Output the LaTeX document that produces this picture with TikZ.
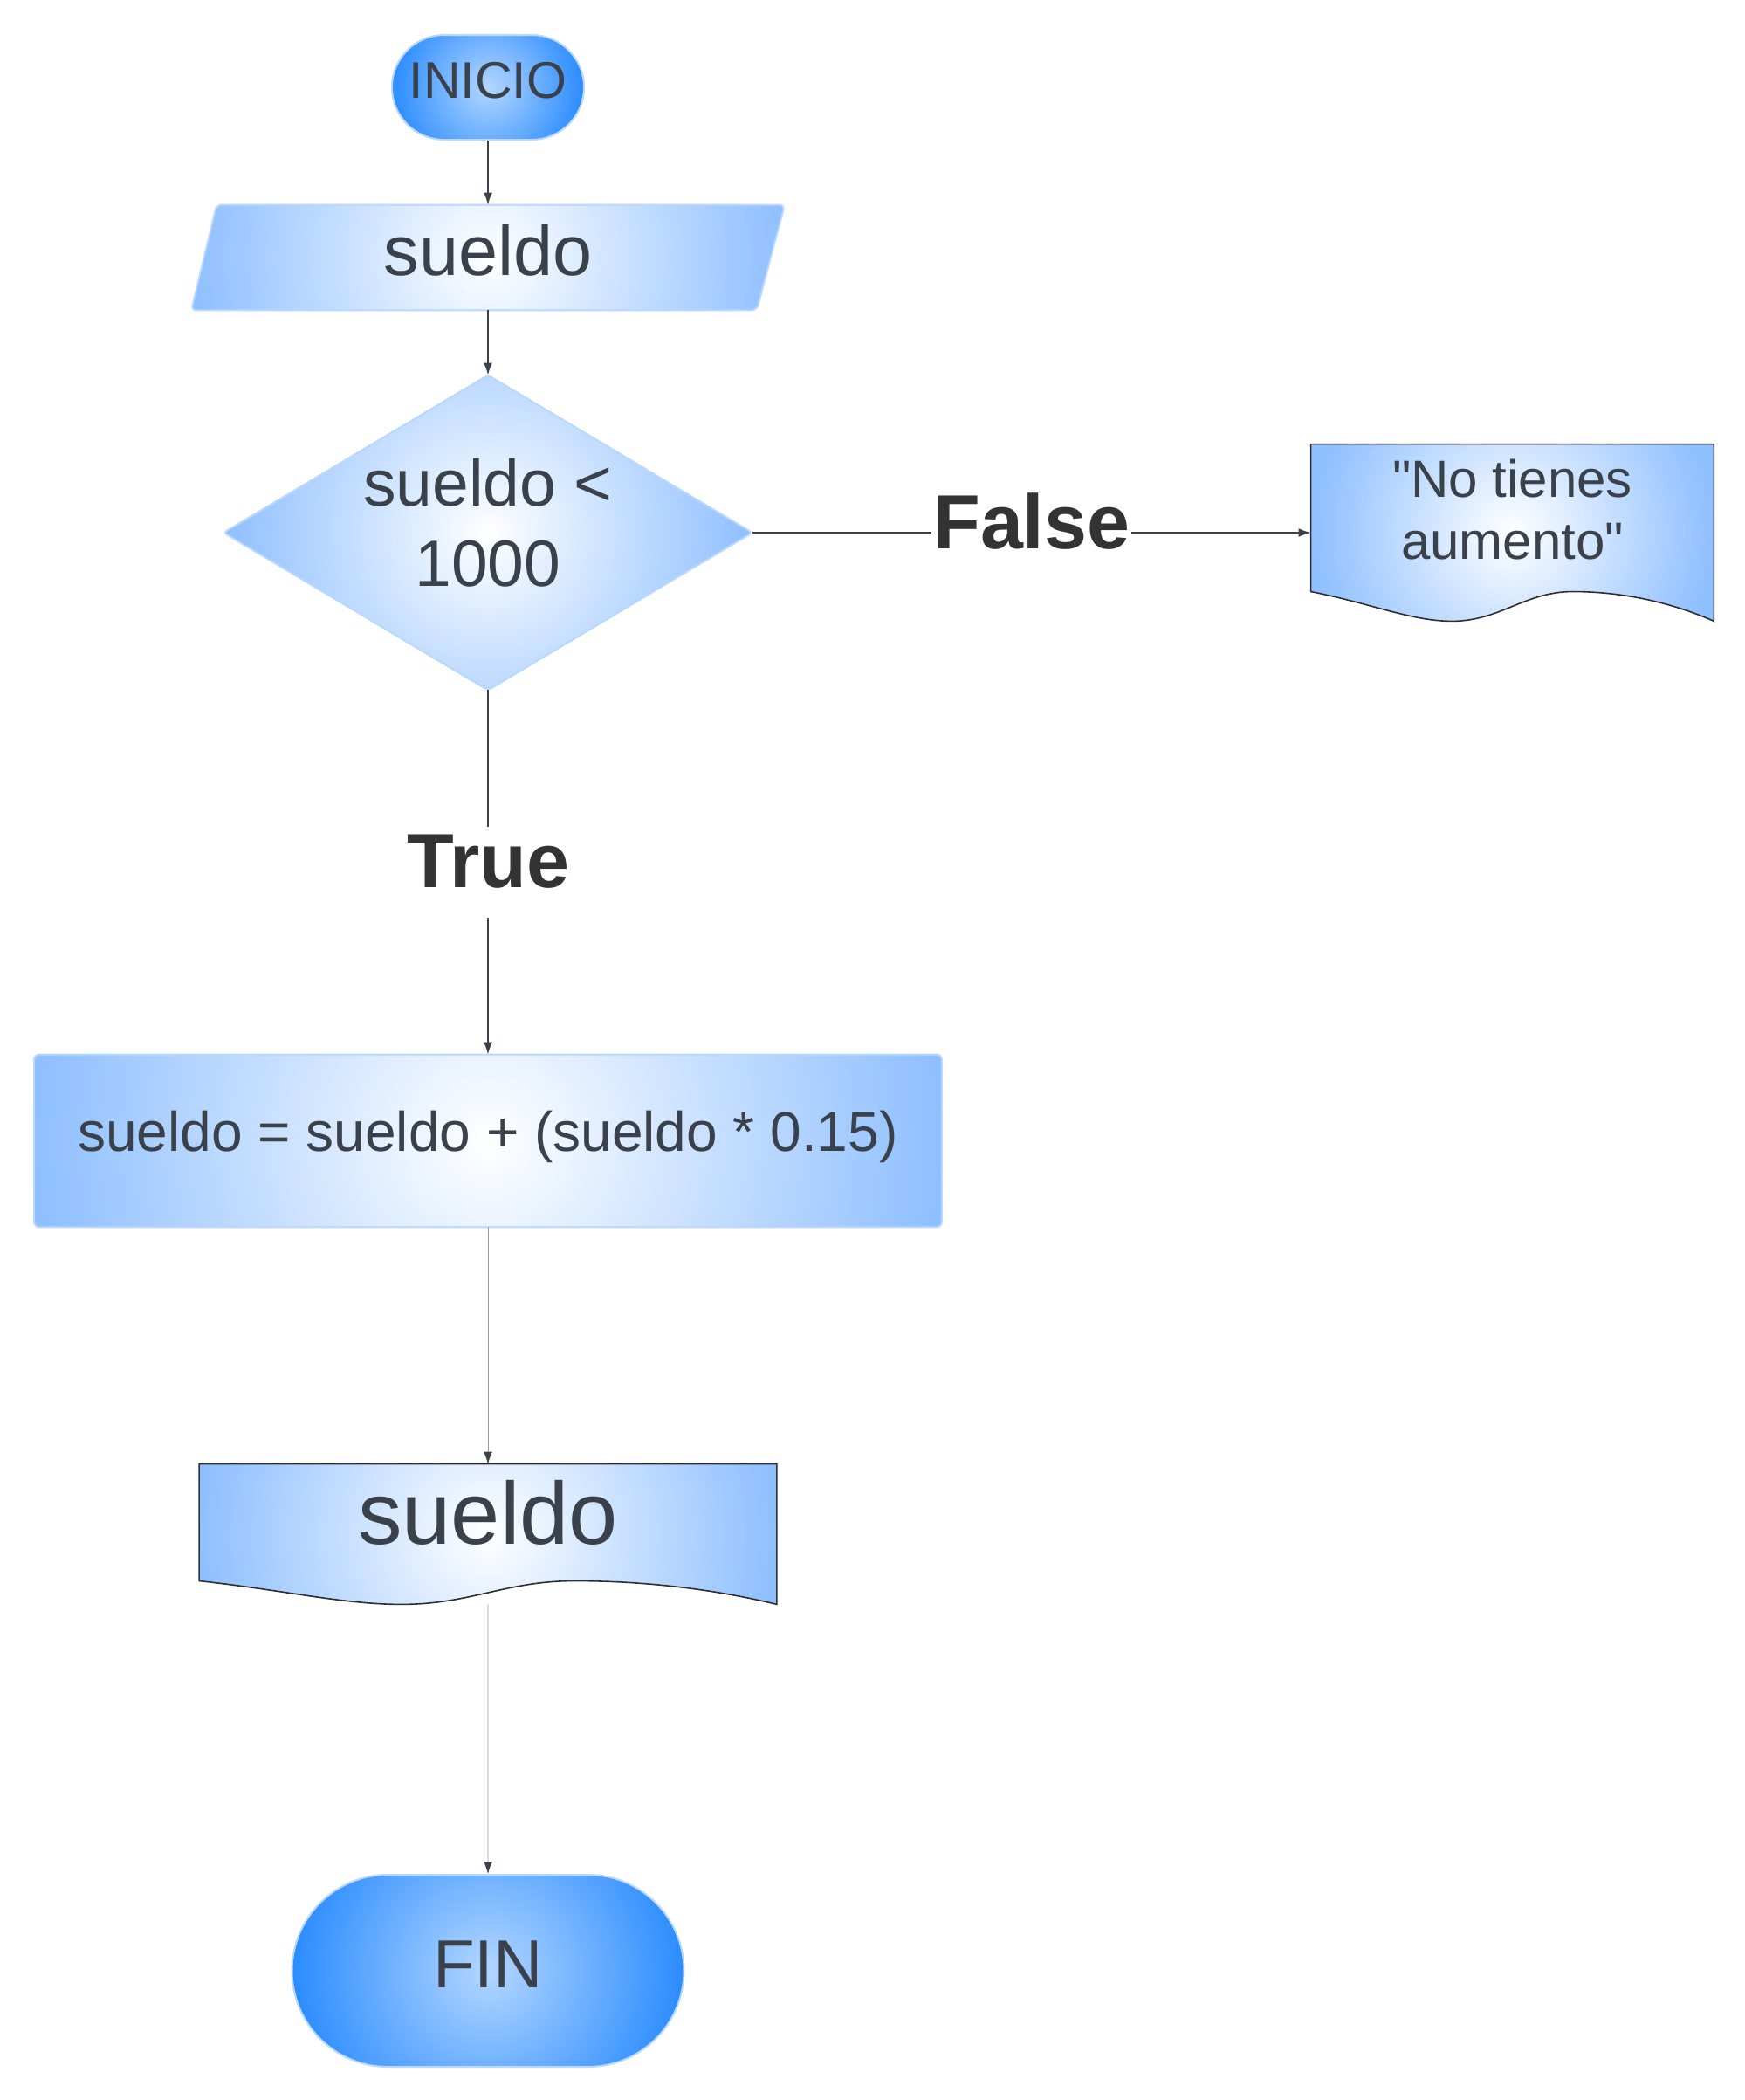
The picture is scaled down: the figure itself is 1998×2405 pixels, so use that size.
\documentclass[tikz,border=0pt]{standalone}
\usepackage{fontspec}
\setmainfont{Liberation Sans}[Ligatures=TeXOff]
\usetikzlibrary{shapes.misc,calc,backgrounds,arrows.meta}
\definecolor{txt}{HTML}{3A414A}
\definecolor{lbl}{HTML}{333333}
\definecolor{termin}{HTML}{B3D6FF}
\definecolor{termout}{HTML}{2B8CFF}
\definecolor{boxout}{HTML}{8EBFFF}
\definecolor{edgeblue}{HTML}{B8D8FF}
\definecolor{docedge}{HTML}{2E2E2E}
\definecolor{lineg}{HTML}{3A414A}
\definecolor{lightline}{HTML}{9A9A9A}
\pgfdeclareradialshading{termshade}{\pgfpointorigin}{color(0bp)=(termin); color(25bp)=(termout); color(50bp)=(termout)}
\pgfdeclareradialshading{boxshade}{\pgfpointorigin}{color(0bp)=(white); color(25bp)=(boxout); color(50bp)=(boxout)}
\newcommand{\docpath}[1]{%
  \path[docfill] let \p1=(#1.north west), \p2=(#1.south east) in
    (\x1,{\y1+0.833*(\y2-\y1)}) -- (\x1,\y1) -- (\x2,\y1) -- (\x2,\y2)
    .. controls ({\x1+0.90*(\x2-\x1)},{\y1+0.90*(\y2-\y1)}) and ({\x1+0.78*(\x2-\x1)},{\y1+0.833*(\y2-\y1)}) .. ({\x1+0.65*(\x2-\x1)},{\y1+0.833*(\y2-\y1)})
    .. controls ({\x1+0.53*(\x2-\x1)},{\y1+0.833*(\y2-\y1)}) and ({\x1+0.47*(\x2-\x1)},\y2) .. ({\x1+0.35*(\x2-\x1)},\y2)
    .. controls ({\x1+0.25*(\x2-\x1)},\y2) and ({\x1+0.15*(\x2-\x1)},{\y1+0.90*(\y2-\y1)}) .. (\x1,{\y1+0.833*(\y2-\y1)}) -- cycle;}
\begin{document}
\begin{tikzpicture}[x=0.5pt,y=-0.5pt,
  every node/.style={text=txt},
  circshade/.style={path picture={\path[shading=#1] let \p1=(path picture bounding box.west), \p2=(path picture bounding box.east) in
      ($(path picture bounding box.center)+({-(\x2-\x1)/2},{-(\x2-\x1)/2})$) rectangle ($(path picture bounding box.center)+({(\x2-\x1)/2},{(\x2-\x1)/2})$);}},
  term/.style={rounded rectangle, circshade=termshade, draw=edgeblue, line width=1pt, inner sep=0pt},
  box/.style={rectangle, draw=none, inner sep=0pt},
  boxfill/.style={circshade=boxshade, draw=edgeblue, line width=1pt},
  docfill/.style={circshade=boxshade, draw=docedge, line width=0.8pt},
  arr/.style={draw=lineg, line width=0.8pt, -{Latex[length=7pt,width=5pt]}},
  thinarr/.style={draw=lightline, line width=0.4pt, -{Latex[length=7pt,width=5pt,color=lineg]}},
  lblstyle/.style={fill=white, text=lbl, inner xsep=1pt, inner ysep=4.5pt, text depth=13pt, font=\fontsize{44}{50}\selectfont\bfseries}]
\useasboundingbox (0,0) rectangle (1998,2405);

\node[term, minimum width=110pt, minimum height=60pt, text depth=8pt, font=\fontsize{29.5}{34}\selectfont] (inicio) at (559,100) {INICIO};
\node[box, minimum width=339.5pt, minimum height=60pt, text depth=9pt, font=\fontsize{40.5}{46}\selectfont] (in1) at (559,295) {sueldo};
\node[box, minimum width=302.5pt, minimum height=180pt, text depth=12pt, align=center, font=\fontsize{37.5}{46}\selectfont] (dec) at (559,610) {sueldo <\\1000};
\node[box, minimum width=230.5pt, minimum height=101pt] (doc1) at (1732.5,610) {};
\node[font=\fontsize{30}{35.5}\selectfont, align=center, inner sep=0pt] (doc1text) at ($(doc1.center)+(0,-26)$) {"No tienes\\aumento"};
\node[box, minimum width=519.5pt, minimum height=98.5pt, text depth=11.4pt, font=\fontsize{32}{38}\selectfont] (proc) at (559,1306.5) {sueldo = sueldo + (sueldo * 0.15)};
\node[box, minimum width=330.5pt, minimum height=80pt] (doc2) at (559,1757) {};
\node[font=\fontsize{50.5}{58}\selectfont, inner sep=0pt] (doc2text) at ($(doc2.center)+(0,-25)$) {sueldo};
\node[term, minimum width=224.5pt, minimum height=110pt, text depth=7.7pt, font=\fontsize{39}{45}\selectfont] (fin) at (559,2257) {FIN};

\begin{scope}[on background layer]
  \path[boxfill, rounded corners=3pt] ($(in1.north west)+(29,0)$) -- (in1.north east) -- ($(in1.south east)+(-32,0)$) -- (in1.south west) -- cycle;
  \path[boxfill, rounded corners=2pt] (dec.north) -- (dec.east) -- (dec.south) -- (dec.west) -- cycle;
  \path[boxfill, rounded corners=3pt] (proc.north west) rectangle (proc.south east);
  \docpath{doc1}
  \docpath{doc2}
\end{scope}

\draw[arr] (inicio) -- (in1);
\draw[arr] (in1) -- (dec);
\draw[arr] (dec) -- node[lblstyle] (falselbl) {False} (doc1);
\draw[arr] (dec) -- node[lblstyle] (truelbl) {True} (proc);
\draw[thinarr] (proc) -- (doc2);
\draw[thinarr] (doc2) -- (fin);
\end{tikzpicture}
\end{document}
